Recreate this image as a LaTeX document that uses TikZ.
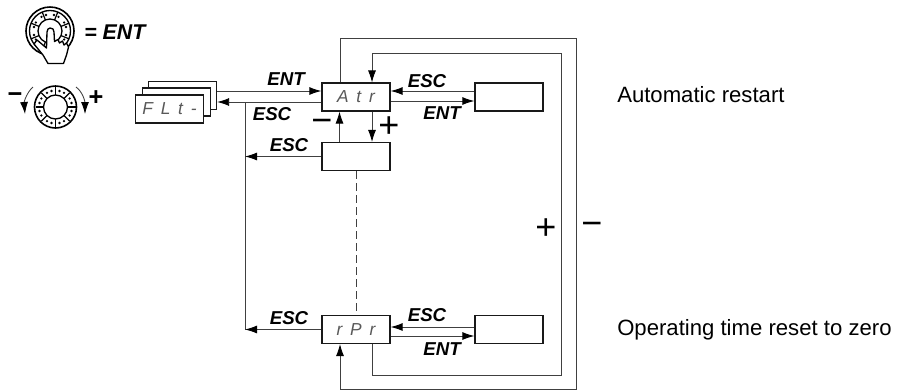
\documentclass[tikz,border=0pt]{standalone}
\usepackage{fontspec}
\setmainfont{Liberation Sans}
\newfontfamily\segfont[LetterSpace=45]{Liberation Sans}
\usetikzlibrary{arrows.meta,calc}
\tikzset{
  ln/.style={line width=0.65pt,draw=black!75},
  arr/.style={ln,-{Latex[length=9pt,width=6pt,black]}},
  dbox/.style={draw=black!90,line width=1pt,fill=white,minimum width=51pt,minimum height=20.8pt,inner sep=0pt,font=\segfont\itshape\fontsize{13}{13}\selectfont,text=black!65},
  lab/.style={inner sep=0pt,font=\bfseries\itshape\fontsize{14}{14}\selectfont},
  sign/.style={inner sep=0pt,font=\fontsize{27}{27}\selectfont},
  smallsign/.style={inner sep=0pt,font=\bfseries\fontsize{19}{19}\selectfont},
  side/.style={inner sep=0pt,anchor=west,font=\fontsize{16.6}{17}\selectfont},
  knob/.style={draw=black,line width=1pt},
}
\begin{document}
\begin{tikzpicture}[x=0.75pt,y=-0.75pt]
\useasboundingbox (0,0) rectangle (898,390);
% pushed knob
\begin{scope}[shift={(50,31)}]
  \draw[knob,line width=1.2pt] (0,0) circle (24);
  \draw[knob] (0,0) circle (20.5);
  \draw[knob] (0,0) circle (12);
  \foreach \a in {0,45,...,315}{
    \draw[knob,line width=0.9pt] (\a+22.5:12) -- (\a+22.5:20.5);
    \fill (\a+14:16.5) circle (1.3);
    \fill (\a+31:16.5) circle (1.3);
  }
\end{scope}
\draw[fill=white,draw=black,line width=1pt,line join=round]
  (47,32) -- (48,29) -- (50,28) -- (53,29) -- (54,32) -- (54.5,41.5) -- (58,39.5) -- (59.5,43) -- (62.5,41) -- (64,45) -- (66.5,43) -- (68.5,47) -- (66.5,55) -- (63.5,63.5) -- (48,63.5) -- (43,55) -- (34,44) -- (37,40) -- (46.5,48) -- cycle;
\node[inner sep=0pt,font=\bfseries\itshape\fontsize{16}{16}\selectfont,anchor=west] (enttext) at (84,32) {= ENT};
% turning knob
\begin{scope}[shift={(55.5,107)}]
  \draw[knob,line width=1.2pt] (0,0) circle (21);
  \draw[knob] (0,0) circle (12);
  \foreach \a in {0,45,...,315}{
    \draw[knob,line width=0.9pt] (\a+90:12) -- (\a+90:20);
    \fill (\a+14:16.5) circle (1.3);
    \fill (\a+31:16.5) circle (1.3);
  }
\end{scope}
\coordinate (alt) at (33,87); \coordinate (alb) at (25,114);
\coordinate (art) at (76,87); \coordinate (arb) at (85,114);
\draw[arr] (alt) .. controls (27,92) and (24,102) .. (alb);
\draw[arr] (art) .. controls (83,92) and (85,102) .. (arb);
\node[smallsign] (km) at (15,98) {−};
\node[smallsign] (kp) at (96,98) {+};
% FLt stack
\node[dbox] (f3) at (182.5,95.5) {};
\node[dbox] (f2) at (176.5,102) {};
\node[dbox] (f1) at (169.5,109) {FLt-};
% boxes
\node[dbox] (atr) at (356,97) {Atr};
\node[dbox] (atrv) at (509,97) {};
\node[dbox] (sub) at (356,156.5) {};
\node[dbox] (rpr) at (356,329.5) {rPr};
\node[dbox] (rprv) at (509,329.5) {};
% helper levels
\coordinate (y91) at (0,91);
\coordinate (y102) at (0,102);
\coordinate (y101) at (0,101);
\coordinate (y327) at (0,327);
\coordinate (y336) at (0,336);
\coordinate (x339) at (339.5,0);
\coordinate (x372) at (372,0);
\coordinate (bust) at (245,102);
\coordinate (busb) at (245,329.5);
\coordinate (oTL) at (340,38); \coordinate (oTR) at (576,38);
\coordinate (oBR) at (576,389); \coordinate (oBL) at (340,389);
\coordinate (iTL) at (372,53); \coordinate (iTR) at (561,53);
\coordinate (iBR) at (561,375); \coordinate (iBL) at (372,375);
% connectors
\draw[arr] (f3.east |- y91) -- (atr.west |- y91);
\draw[arr] (atr.west |- y102) -- (f3.east |- y102);
\draw[ln] (bust) -- (busb);
\draw[arr] (sub.west) -- (sub.west -| bust);
\draw[arr] (rpr.west) -- (busb);
\draw[arr] (atrv.west |- y91) -- (atr.east |- y91);
\draw[arr] (atr.east |- y101) -- (atrv.west |- y101);
\draw[arr] (rprv.west |- y327) -- (rpr.east |- y327);
\draw[arr] (rpr.east |- y336) -- (rprv.west |- y336);
\draw[arr] (sub.north -| x339) -- (atr.south -| x339);
\draw[arr] (atr.south -| x372) -- (sub.north -| x372);
\draw[ln,line width=0.55pt,dash pattern=on 6pt off 3pt] (sub.south) -- (rpr.north);
\draw[arr] (atr.north -| oTL) -- (oTL) -- (oTR) -- (oBR) -- (oBL) -- (rpr.south -| oBL);
\draw[arr] (rpr.south -| iBL) -- (iBL) -- (iBR) -- (iTR) -- (iTL) -- (atr.north -| iTL);
% labels
\node[lab] (l1) at (286,79) {ENT};
\node[lab] (l2) at (272,114) {ESC};
\node[lab] (l3) at (289,145) {ESC};
\node[lab] (l4) at (427,81) {ESC};
\node[lab] (l5) at (442,113) {ENT};
\node[lab] (l6) at (289,318) {ESC};
\node[lab] (l7) at (427,315) {ESC};
\node[lab] (l8) at (442,349) {ENT};
\node[sign] (sm) at (322,126) {−};
\node[sign] (sp) at (389,127) {+};
\node[sign] (op) at (546,229) {+};
\node[sign] (om) at (592,229) {−};
\node[side] (t1) at (617,95) {Automatic restart};
\node[side] (t2) at (617,330) {Operating time reset to zero};
\end{tikzpicture}
\end{document}
